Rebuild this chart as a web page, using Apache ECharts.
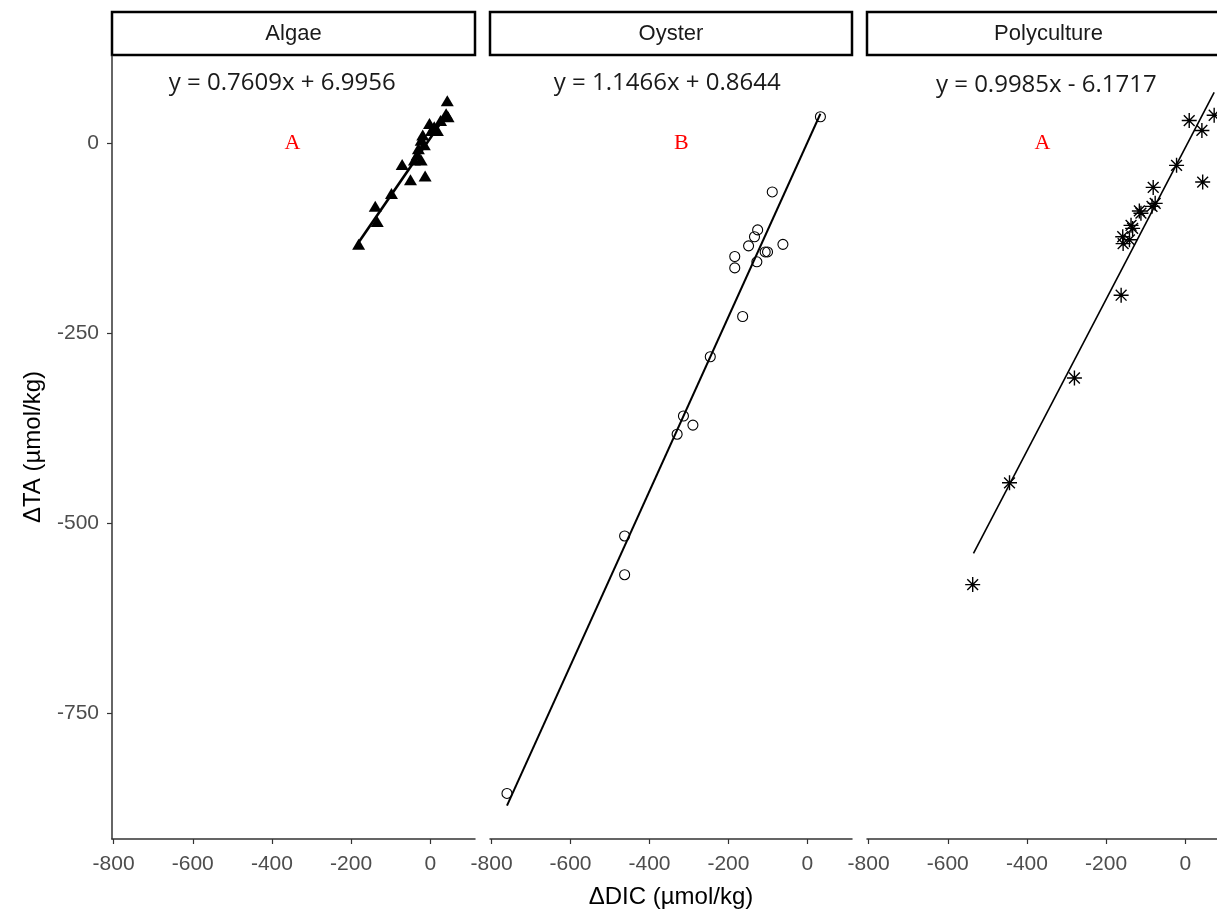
<!DOCTYPE html>
<html><head><meta charset="utf-8">
<script src="https://cdn.jsdelivr.net/npm/echarts@6/dist/echarts.min.js"></script>
<style>html,body{margin:0;padding:0;background:#fff;overflow:hidden}#c{width:1232px;height:913px}</style>
</head><body><div id="c"></div>
<script>
const panels = ['Algae', 'Oyster', 'Polyculture'];
const equations = ['y = 0.7609x + 6.9956', 'y = 1.1466x + 0.8644', 'y = 0.9985x - 6.1717'];
const letters = ['A', 'B', 'A'];

const algaeDIC = [43, 40, 45, 26, -2, 18, 10, 3, -19, -23, -15, -30, -33, -40, -23, -71, -50, -13, -98, -139, -134, -181];
const algaeTA  = [56, 39, 35, 30, 26, 17, 22, 17, 11, 4, -2, -7, -15, -22, -22, -28, -48, -43, -66, -83, -103, -133];

const oysterDIC = [33, -89, -126, -134, -149, -62, -107, -101, -128, -184, -184, -164, -246, -314, -290, -330, -463, -463, -761];
const oysterTA  = [35, -64, -114, -123, -135, -133, -143, -143, -156, -149, -164, -228, -281, -359, -371, -383, -517, -568, -856];

const polyDIC = [10, 73, 42, 44, -22, -81, -76, -84, -116, -112, -137, -133, -158, -157, -141, -162, -280, -444, -537];
const polyTA  = [30, 37, 17, -51, -29, -58, -79, -83, -89, -92, -108, -112, -123, -132, -127, -200, -309, -447, -581];

// fitted-line endpoints
const algaeLineDIC = [-183, 45];
const algaeLineTA  = [-132, 41];
const oysterLineDIC = [-761, 33];
const oysterLineTA  = [-872, 39];
const polyLineDIC = [-535, 73];
const polyLineTA  = [-540, 67];

const xTicks = [-800, -600, -400, -200, 0];
const yTicks = [-750, -500, -250, 0];
const xRange = [-804, 113];
const yRange = [-916, 115];

const zip = (a, b) => a.map((v, i) => [v, b[i]]);

const grids = [
  {left: 112, top: 56, width: 363, height: 783},
  {left: 490, top: 56, width: 362, height: 783},
  {left: 867, top: 56, width: 363, height: 783}
];

const axisColor = '#333';
const labelColor = '#4d4d4d';
const sans = 'Liberation Sans, Arial, sans-serif';

const xAxes = grids.map((g, i) => ({
  type: 'value', gridIndex: i, min: xRange[0], max: xRange[1],
  axisLine: {show: true, onZero: false, lineStyle: {color: axisColor, width: 1.5}},
  axisTick: {show: true, customValues: xTicks, length: 5, lineStyle: {color: axisColor, width: 1.2}},
  axisLabel: {show: true, customValues: xTicks, fontSize: 21, color: labelColor, fontFamily: sans, margin: 15},
  splitLine: {show: false}
}));
const yAxes = grids.map((g, i) => ({
  type: 'value', gridIndex: i, min: yRange[0], max: yRange[1],
  show: i === 0,
  axisLine: {show: true, onZero: false, lineStyle: {color: axisColor, width: 1.5}},
  axisTick: {show: true, customValues: yTicks, length: 5, lineStyle: {color: axisColor, width: 1.2}},
  axisLabel: {show: true, customValues: yTicks, fontSize: 21, color: labelColor, fontFamily: sans, margin: 13},
  splitLine: {show: false}
}));

const asterisk = 'path://M0,-1L0,1M-1,0L1,0M-0.72,-0.72L0.72,0.72M-0.72,0.72L0.72,-0.72';

const series = [];
const lines = [[algaeLineDIC, algaeLineTA, 2.6], [oysterLineDIC, oysterLineTA, 2], [polyLineDIC, polyLineTA, 1.6]];
lines.forEach((l, i) => {
  series.push({
    type: 'line', xAxisIndex: i, yAxisIndex: i, data: zip(l[0], l[1]),
    showSymbol: false, symbol: 'none', silent: true,
    lineStyle: {color: '#000', width: l[2], opacity: 1}, z: 3
  });
});
series.push({
  type: 'scatter', xAxisIndex: 0, yAxisIndex: 0, data: zip(algaeDIC, algaeTA),
  symbol: 'triangle', symbolSize: [13, 11], silent: true,
  itemStyle: {color: '#000', opacity: 1}, z: 4
});
series.push({
  type: 'scatter', xAxisIndex: 1, yAxisIndex: 1, data: zip(oysterDIC, oysterTA),
  symbol: 'circle', symbolSize: 10, silent: true,
  itemStyle: {color: 'rgba(0,0,0,0)', borderColor: '#000', borderWidth: 1.1, opacity: 1}, z: 4
});
series.push({
  type: 'scatter', xAxisIndex: 2, yAxisIndex: 2, data: zip(polyDIC, polyTA),
  symbol: asterisk, symbolSize: 15, silent: true,
  itemStyle: {color: 'rgba(0,0,0,0)', borderColor: '#000', borderWidth: 1.4, opacity: 1}, z: 4
});

// annotations (equations and group letters)
const eqPos = [[-374, 79], [-355, 79], [-351, 76]];
const letterPos = [[-348, 0], [-319, 0], [-361, 0]];
panels.forEach((p, i) => {
  series.push({
    type: 'scatter', xAxisIndex: i, yAxisIndex: i, silent: true, symbolSize: 0,
    itemStyle: {opacity: 1},
    data: [{value: eqPos[i], label: {formatter: equations[i]}}],
    label: {show: true, position: 'inside', fontSize: 24, color: '#1a1a1a', fontFamily: 'Open Sans, sans-serif'}, z: 5
  });
  series.push({
    type: 'scatter', xAxisIndex: i, yAxisIndex: i, silent: true, symbolSize: 0,
    itemStyle: {opacity: 1},
    data: [{value: letterPos[i], label: {formatter: letters[i]}}],
    label: {show: true, position: 'inside', fontSize: 22, color: '#ff0000', fontFamily: 'Liberation Serif, serif'}, z: 5
  });
});

const graphic = [];
grids.forEach((g, i) => {
  graphic.push({
    type: 'rect', shape: {x: g.left, y: 12, width: g.width, height: 43},
    style: {fill: '#fff', stroke: '#000', lineWidth: 2.5}, silent: true
  });
  graphic.push({
    type: 'text', x: g.left + g.width / 2, y: 34,
    style: {text: panels[i], fontSize: 22, fill: '#1a1a1a', fontFamily: sans, align: 'center', verticalAlign: 'middle'}, silent: true
  });
});
graphic.push({
  type: 'text', x: 671, y: 897,
  style: {text: 'ΔDIC (µmol/kg)', fontSize: 24, fill: '#000', fontFamily: sans, align: 'center', verticalAlign: 'middle'}, silent: true
});
graphic.push({
  type: 'text', x: 33, y: 447, rotation: Math.PI / 2,
  style: {text: 'ΔTA (µmol/kg)', fontSize: 24, fill: '#000', fontFamily: sans, align: 'center', verticalAlign: 'middle'}, silent: true
});

const chart = echarts.init(document.getElementById('c'), null, {renderer: 'canvas'});
chart.setOption({
  animation: false,
  backgroundColor: '#fff',
  grid: grids,
  xAxis: xAxes,
  yAxis: yAxes,
  series: series,
  graphic: graphic
});
</script>
</body></html>
